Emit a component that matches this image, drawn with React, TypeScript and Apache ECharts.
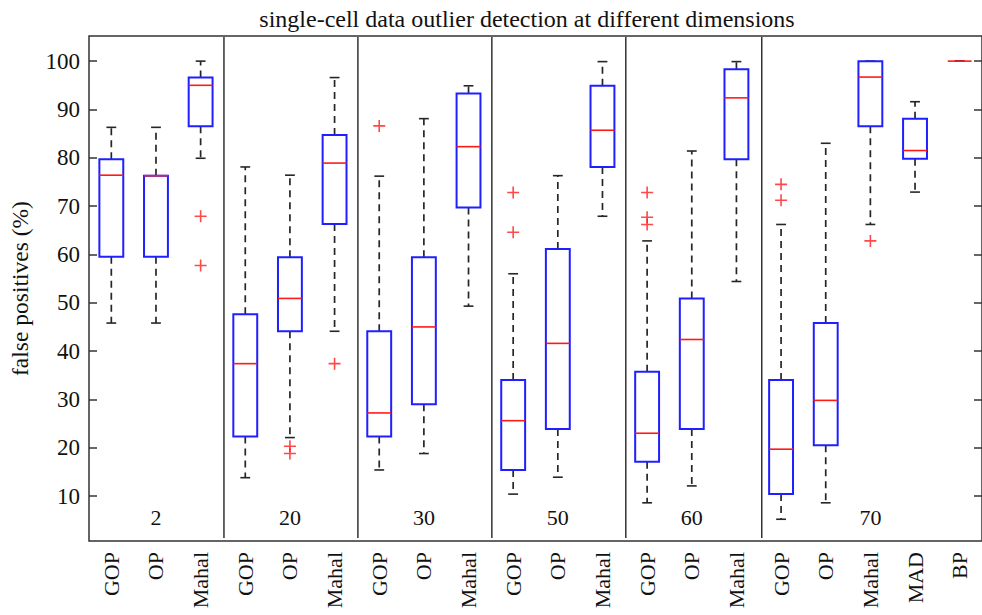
import React, { useEffect, useRef } from "react";
import * as echarts from "echarts";

// Method / dimension columns along the x axis
const categories = [
  "GOP", "OP", "Mahal",
  "GOP", "OP", "Mahal",
  "GOP", "OP", "Mahal",
  "GOP", "OP", "Mahal",
  "GOP", "OP", "Mahal",
  "GOP", "OP", "Mahal", "MAD", "BP",
];

// Dimension labels and the column each one sits under
const dimensionLabels = ["2", "20", "30", "50", "60", "70"];
const dimensionLabelColumn = [1, 4, 7, 10, 13, 17];

// Last column of each dimension group (a separator follows it)
const groupEndColumn = [2, 5, 8, 11, 14];

// Box statistics (false positives, %)
const lowerWhisker = [45.8, 45.8, 79.9, 13.8, 22.1, 44.1, 15.4, 18.8, 49.3, 10.4, 13.9, 67.9, 8.6, 12.1, 54.4, 5.2, 8.6, 66.2, 72.9, 100];
const lowerQuartile = [59.5, 59.5, 86.5, 22.3, 44.1, 66.3, 22.3, 29.0, 69.7, 15.4, 23.9, 78.1, 17.1, 23.9, 79.7, 10.4, 20.5, 86.5, 79.8, 100];
const medians = [76.4, 76.3, 95.0, 37.4, 50.9, 78.9, 27.2, 45.0, 82.3, 25.6, 41.6, 85.7, 23.0, 42.4, 92.4, 19.7, 29.8, 96.7, 81.5, 100];
const upperQuartile = [79.7, 76.3, 96.6, 47.6, 59.4, 84.7, 44.1, 59.4, 93.3, 34.0, 61.1, 94.9, 35.7, 50.9, 98.3, 34.0, 45.8, 100, 88.1, 100];
const upperWhisker = [86.3, 86.3, 100, 78.1, 76.4, 96.6, 76.2, 88.1, 94.9, 56.0, 76.3, 99.9, 62.8, 81.4, 99.9, 66.2, 83.0, 100, 91.6, 100];

// Outliers: column index and value
const outlierColumn = [2, 2, 4, 4, 5, 6, 9, 9, 12, 12, 12, 15, 15, 17];
const outlierValue = [67.9, 57.7, 20.3, 18.8, 37.4, 86.6, 72.8, 64.6, 72.8, 67.7, 66.2, 74.5, 71.2, 62.8];

const yTicks = [10, 20, 30, 40, 50, 60, 70, 80, 90, 100];

const SERIF = "Liberation Serif";
const PLUS = "path://M0,5.2H12V6.8H0Z M5.2,0H6.8V12H5.2Z";

export default function App() {
  const ref = useRef<HTMLDivElement>(null);

  useEffect(() => {
    if (!ref.current) return;
    const chart = echarts.init(ref.current, undefined, { renderer: "svg" });

    const boxData = categories.map((_, i) => [
      i,
      lowerWhisker[i],
      lowerQuartile[i],
      medians[i],
      upperQuartile[i],
      upperWhisker[i],
    ]);

    const renderBox = (params: any, api: any) => {
      const x = api.value(0);
      const band = api.size([1, 0])[0];
      const boxW = band * 0.535;
      const capW = band * 0.22;
      const pLow = api.coord([x, api.value(1)]);
      const pQ1 = api.coord([x, api.value(2)]);
      const pMed = api.coord([x, api.value(3)]);
      const pQ3 = api.coord([x, api.value(4)]);
      const pHigh = api.coord([x, api.value(5)]);
      const cx = pMed[0];
      const whisk = { stroke: "#262626", lineWidth: 1.7, lineDash: [7, 5] };
      const cap = { stroke: "#262626", lineWidth: 1.6 };
      const children: any[] = [
        { type: "line", shape: { x1: cx, y1: pQ3[1], x2: cx, y2: pHigh[1] }, style: whisk },
        { type: "line", shape: { x1: cx, y1: pQ1[1], x2: cx, y2: pLow[1] }, style: whisk },
        { type: "line", shape: { x1: cx - capW / 2, y1: pHigh[1], x2: cx + capW / 2, y2: pHigh[1] }, style: cap },
        { type: "line", shape: { x1: cx - capW / 2, y1: pLow[1], x2: cx + capW / 2, y2: pLow[1] }, style: cap },
      ];
      if (Math.abs(pQ1[1] - pQ3[1]) > 0.5) {
        children.push({
          type: "rect",
          shape: { x: cx - boxW / 2, y: pQ3[1], width: boxW, height: pQ1[1] - pQ3[1] },
          style: { fill: "none", stroke: "#1f1fff", lineWidth: 2 },
        });
      }
      children.push({
        type: "line",
        shape: { x1: cx - boxW / 2, y1: pMed[1], x2: cx + boxW / 2, y2: pMed[1] },
        style: { stroke: "#ff1a1a", lineWidth: 1.6 },
      });
      return { type: "group", children };
    };

    const renderSeparator = (params: any, api: any) => {
      const idx = api.value(0);
      const band = api.size([1, 0])[0];
      const c = api.coord([idx, 50]);
      const sx = c[0] + band / 2 + (idx === 14 ? 3 : 1);
      const cs = params.coordSys;
      return {
        type: "line",
        shape: { x1: sx, y1: cs.y + 1, x2: sx, y2: cs.y + cs.height - 3 },
        style: { stroke: "#333", lineWidth: 1.5 },
      };
    };

    const renderDimLabel = (params: any, api: any) => {
      const idx = api.value(0);
      const c = api.coord([idx, 50]);
      const cs = params.coordSys;
      return {
        type: "text",
        x: c[0],
        y: cs.y + cs.height - 24,
        style: {
          text: dimensionLabels[params.dataIndex],
          fill: "#111",
          fontFamily: SERIF,
          fontSize: 22,
          align: "center",
          verticalAlign: "middle",
        },
      };
    };

    chart.setOption({
      animation: false,
      backgroundColor: "#fff",
      textStyle: { fontFamily: SERIF },
      title: {
        text: "single-cell data outlier detection at different dimensions",
        left: 522,
        top: 2,
        textAlign: "center",
        textStyle: { fontFamily: SERIF, fontSize: 24, fontWeight: "normal", color: "#111" },
      },
      grid: {
        left: 87,
        top: 36,
        width: 898,
        height: 505,
        show: true,
        borderColor: "#333",
        borderWidth: 1.5,
        backgroundColor: "transparent",
      },
      xAxis: {
        type: "category",
        data: categories,
        axisLine: { show: false },
        axisTick: { show: false },
        splitLine: { show: false },
        axisLabel: {
          rotate: 90,
          margin: 11,
          interval: 0,
          fontFamily: SERIF,
          fontSize: 22,
          color: "#111",
        },
      },
      yAxis: [
        {
          type: "value",
          min: 0.7,
          max: 105.2,
          name: "false positives (%)",
          nameLocation: "middle",
          nameGap: 57,
          nameTextStyle: { fontFamily: SERIF, fontSize: 23.5, color: "#111" },
          axisLine: { show: false },
          splitLine: { show: false },
          axisTick: { show: true, inside: true, length: 8, customValues: yTicks, lineStyle: { color: "#333", width: 1.5 } },
          axisLabel: { customValues: yTicks, margin: 9, fontFamily: SERIF, fontSize: 23, color: "#111" },
        },
        {
          type: "value",
          position: "right",
          min: 0.7,
          max: 105.2,
          axisLine: { show: false },
          splitLine: { show: false },
          axisTick: { show: true, inside: true, length: 8, customValues: yTicks, lineStyle: { color: "#333", width: 1.5 } },
          axisLabel: { show: false },
        },
      ],
      series: [
        {
          type: "custom",
          name: "separators",
          renderItem: renderSeparator,
          data: groupEndColumn.map((c) => [c]),
          silent: true,
          clip: false,
          z: 1,
        },
        {
          type: "custom",
          name: "false positives",
          renderItem: renderBox,
          data: boxData,
          encode: { x: 0, y: [1, 2, 3, 4, 5] },
          clip: false,
          z: 3,
        },
        {
          type: "scatter",
          name: "outliers",
          data: outlierColumn.map((c, i) => [c, outlierValue[i]]),
          symbol: PLUS,
          symbolSize: [12, 12],
          itemStyle: { color: "#ff1a1a" },
          z: 4,
        },
        {
          type: "custom",
          name: "dimensions",
          renderItem: renderDimLabel,
          data: dimensionLabelColumn.map((c) => [c]),
          silent: true,
          clip: false,
          z: 2,
        },
      ],
    });

    return () => chart.dispose();
  }, []);

  return (
    <div
      ref={ref}
      style={{ position: "fixed", left: 0, top: 0, width: 982, height: 615, background: "#fff" }}
    />
  );
}
